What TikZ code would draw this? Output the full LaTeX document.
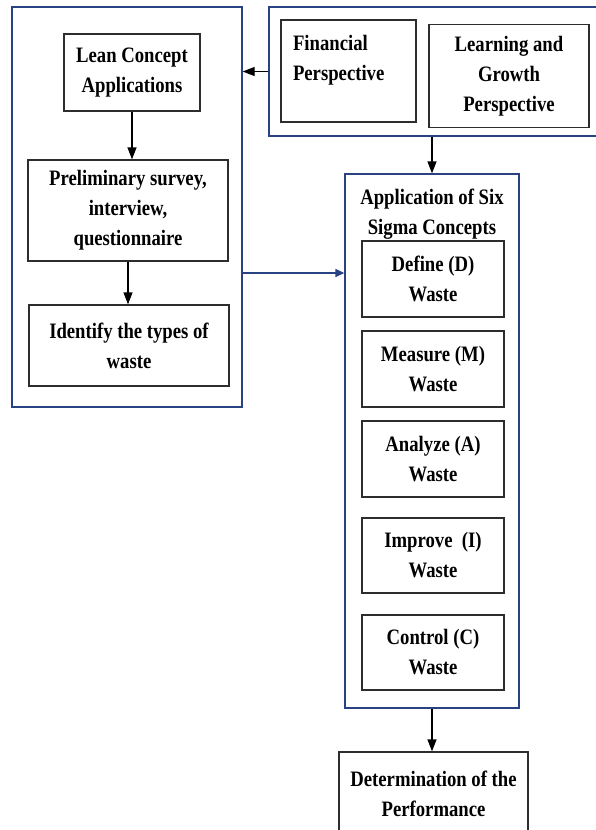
\documentclass[tikz,border=0pt]{standalone}
\usepackage{fontspec}
\setmainfont{Liberation Serif}[FakeStretch=0.85]
\usepackage{xcolor}
\usetikzlibrary{arrows.meta}
\definecolor{panelblue}{RGB}{40, 66, 130}
\definecolor{boxline}{RGB}{45, 45, 45}

\begin{document}
\begin{tikzpicture}[x=1pt, y=-1pt,
      every node/.style={font=\fontsize{22}{30}\selectfont\bfseries, inner sep=0pt},
      panel/.style={draw=panelblue, line width=1.3pt, rectangle},
      bx/.style={draw=boxline, line width=1.3pt, rectangle, align=center},
      ar/.style={-{Triangle[length=12pt,width=9pt]}, line width=1.3pt, color=black},
      bar/.style={-{Triangle[length=9pt,width=8pt]}, line width=1.3pt, color=panelblue}
    ]
      \useasboundingbox (0,0) rectangle (596,830);

      % left panel: lean part
      \node[panel, minimum width=230pt, minimum height=400pt] (lpanel) at (127,207) {};
      \node[bx, minimum width=136pt, minimum height=77pt]  (lean)   at (132,72.5)  {Lean Concept\\Applications};
      \node[bx, minimum width=200pt, minimum height=101pt] (prelim) at (128,210.5) {Preliminary survey,\\interview,\\questionnaire};
      \node[bx, minimum width=200pt, minimum height=81pt]  (ident)  at (129,345.5) {Identify the types of\\waste};
      \draw[ar] (lean.south) -- (lean.south |- prelim.north);
      \draw[ar] (prelim.south) -- (prelim.south |- ident.north);

      % top panel: perspectives
      \node[panel, minimum width=341pt, minimum height=129pt] (tpanel) at (439.5,71.5) {};
      \node[bx, minimum width=135pt, minimum height=102pt, text width=111pt, align=left] (fin) at (348.5,71) {Financial\\Perspective\\[-12pt]\strut};
      \node[bx, minimum width=160pt, minimum height=103pt] (learn) at (509,76) {Learning and\\Growth\\Perspective};
      \draw[ar] (tpanel.west) -- (lpanel.east |- tpanel.west);

      % right panel: six sigma
      \node[panel, minimum width=174pt, minimum height=534pt] (spanel) at (432,441) {};
      \node[align=center] (stitle) at (432,214) {Application of Six\\Sigma Concepts};
      \node[bx, minimum width=142pt, minimum height=76pt] (define)  at (433,279)   {Define (D)\\Waste};
      \node[bx, minimum width=142pt, minimum height=76pt] (measure) at (433,369)   {Measure (M)\\Waste};
      \node[bx, minimum width=142pt, minimum height=76pt] (analyze) at (433,459)   {Analyze (A)\\Waste};
      \node[bx, minimum width=142pt, minimum height=75pt] (improve) at (433,555.5) {Improve\ \ (I)\\Waste};
      \node[bx, minimum width=142pt, minimum height=75pt] (control) at (433,652.5) {Control (C)\\Waste};
      \draw[ar] (spanel.north |- tpanel.south) -- (spanel.north);

      \coordinate (link) at (242,273);
      \draw[bar] (link) -- (link -| spanel.west);

      % result
      \node[bx, minimum width=189pt, minimum height=84pt] (perf) at (433.5,794) {Determination of the\\Performance};
      \draw[ar] (spanel.south) -- (spanel.south |- perf.north);
    \end{tikzpicture}
\end{document}
